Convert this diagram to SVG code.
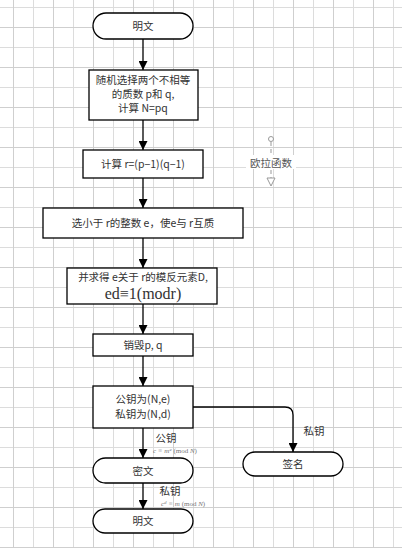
<svg xmlns="http://www.w3.org/2000/svg" width="402" height="548" viewBox="0 0 402 548">
<defs>
<pattern id="grid" x="13" y="7" width="40" height="40" patternUnits="userSpaceOnUse">
<path d="M0.5 0V40M20.5 0V40" stroke="#dcdcdc" stroke-width="1"/>
<path d="M0 0.5H40M0 20.5H40" stroke="#dcdcdc" stroke-width="1"/>
<path d="M0.5 0V40M0 20.5H40" stroke="#cfcfcf" stroke-width="1"/>
</pattern>
<marker id="arr" viewBox="0 0 10 10" refX="10" refY="5" markerWidth="9" markerHeight="9" markerUnits="userSpaceOnUse" orient="auto">
<path d="M0 0L10 5L0 10Z" fill="#000"/>
</marker>
</defs>
<style>
.box{fill:#fff;stroke:#000;stroke-width:1.3}
.t{font-family:"Noto Sans CJK SC","Liberation Sans",sans-serif;font-size:10.5px;fill:#333;text-anchor:middle}
.m{font-family:"Liberation Serif",serif;font-size:16px;fill:#333;text-anchor:middle}
.f{font-family:"Liberation Serif",serif;font-size:7px;fill:#777;font-style:italic}
.c{fill:none;stroke:#000;stroke-width:1.3}
</style>
<rect width="402" height="548" fill="#fff"/>
<rect width="402" height="548" fill="url(#grid)"/>

<g id="start">
<rect class="box" x="93" y="13" width="100" height="26" rx="13"/>
<text class="t" x="143" y="30">明文</text>
</g>
<g id="choose">
<rect class="box" x="89" y="70" width="109" height="50"/>
<text class="t" x="143" y="84">随机选择两个不相等</text>
<text class="t" x="143" y="98">的质数 p和 q,</text>
<text class="t" x="143" y="112">计算 N=pq</text>
</g>
<g id="phi">
<rect class="box" x="83" y="150" width="120" height="28"/>
<text class="t" x="143" y="168">计算 r=(p−1)(q−1)</text>
</g>
<g id="pick-e">
<rect class="box" x="43" y="208" width="200" height="30"/>
<text class="t" x="143" y="227">选小于 r的整数 e，使e与 r互质</text>
</g>
<g id="inverse">
<rect class="box" x="67" y="268" width="150" height="36"/>
<text class="t" x="143" y="281">并求得 e关于 r的模反元素D,</text>
<text class="m" x="143" y="299">ed≡1(modr)</text>
</g>
<g id="destroy">
<rect class="box" x="93" y="334" width="100" height="22"/>
<text class="t" x="143" y="349">销毁p, q</text>
</g>
<g id="keys">
<rect class="box" x="93" y="386" width="100" height="42"/>
<text class="t" x="143" y="403">公钥为(N,e)</text>
<text class="t" x="143" y="418">私钥为(N,d)</text>
</g>
<g id="cipher">
<rect class="box" x="93" y="458" width="100" height="25" rx="12.5"/>
<text class="t" x="143" y="475">密文</text>
</g>
<g id="plain">
<rect class="box" x="93" y="509" width="100" height="24" rx="12"/>
<text class="t" x="143" y="525">明文</text>
</g>
<g id="sign">
<rect class="box" x="243" y="452" width="100" height="24" rx="12"/>
<text class="t" x="293" y="468">签名</text>
</g>
<g id="euler">
<line x1="271" y1="142" x2="271" y2="178" stroke="#999" stroke-width="1" stroke-dasharray="4,3"/>
<circle cx="271" cy="139" r="2.5" fill="#fff" stroke="#999" stroke-width="1"/>
<path d="M267 178H275L271 186Z" fill="#fff" stroke="#999" stroke-width="1"/>
<rect x="246" y="155" width="50" height="14" fill="#fff"/>
<text class="t" x="271" y="167" style="fill:#555">欧拉函数</text>
</g>

<g id="connectors">
<line class="c" x1="143" y1="39" x2="143" y2="70" marker-end="url(#arr)"/>
<line class="c" x1="143" y1="120" x2="143" y2="150" marker-end="url(#arr)"/>
<line class="c" x1="143" y1="178" x2="143" y2="208" marker-end="url(#arr)"/>
<line class="c" x1="143" y1="238" x2="143" y2="268" marker-end="url(#arr)"/>
<line class="c" x1="143" y1="304" x2="143" y2="334" marker-end="url(#arr)"/>
<line class="c" x1="143" y1="356" x2="143" y2="386" marker-end="url(#arr)"/>
<line class="c" x1="143" y1="428" x2="143" y2="458" marker-end="url(#arr)"/>
<line class="c" x1="143" y1="483" x2="143" y2="509" marker-end="url(#arr)"/>
<path class="c" d="M193 407H285Q293 407 293 415V452" marker-end="url(#arr)"/>
<text class="t" x="166" y="442">公钥</text>
<text class="f" x="153" y="453">c ≡ m<tspan dy="-2.5" font-size="5">e</tspan><tspan dy="2.5" font-style="normal">    (mod </tspan>N<tspan font-style="normal">)</tspan></text>
<text class="t" x="170" y="495">私钥</text>
<text class="f" x="161" y="506">c<tspan dy="-2.5" font-size="5">d</tspan><tspan dy="2.5"> ≡ m </tspan><tspan font-style="normal">(mod </tspan>N<tspan font-style="normal">)</tspan></text>
<text class="t" x="314" y="435">私钥</text>
</g>
</svg>
